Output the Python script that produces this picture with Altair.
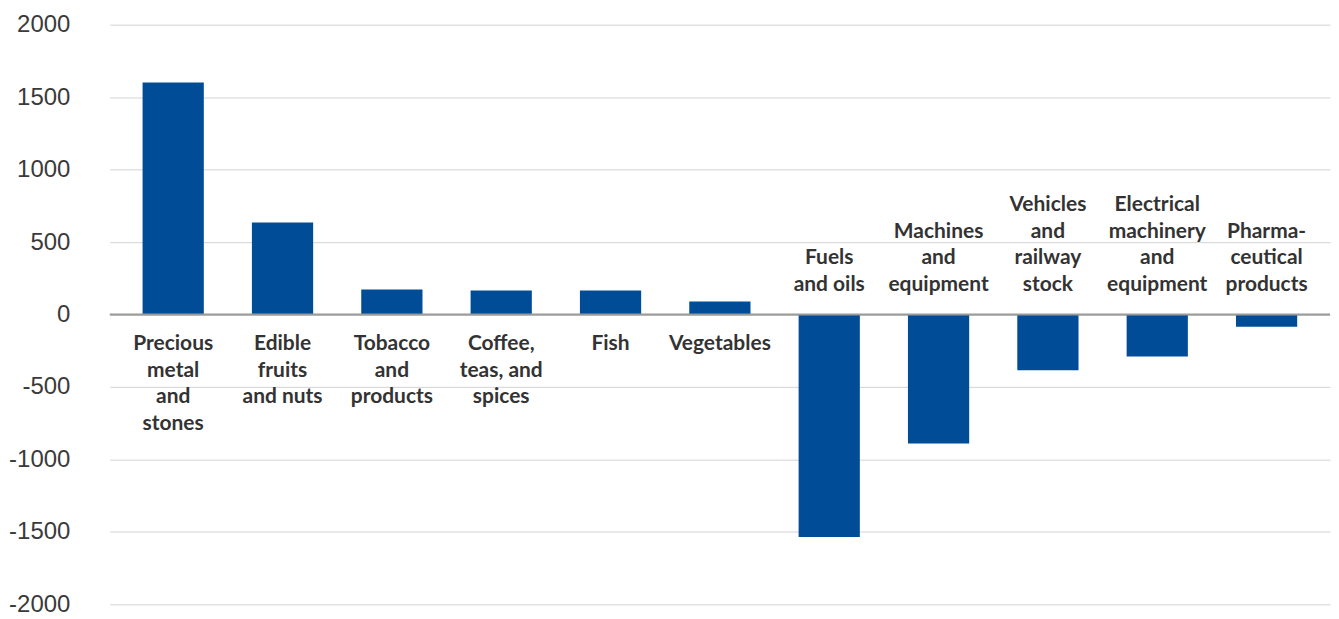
import altair as alt
import pandas as pd

categories = [
    "Precious\nmetal\nand\nstones",
    "Edible\nfruits\nand nuts",
    "Tobacco\nand\nproducts",
    "Coffee,\nteas, and\nspices",
    "Fish",
    "Vegetables",
    "Fuels\nand oils",
    "Machines\nand\nequipment",
    "Vehicles\nand\nrailway\nstock",
    "Electrical\nmachinery\nand\nequipment",
    "Pharma-\nceutical\nproducts",
]
values = [1600, 635, 172, 165, 165, 90, -1535, -890, -385, -290, -85]
y_ticks = [-2000, -1500, -1000, -500, 0, 500, 1000, 1500, 2000]

df = pd.DataFrame({"cat": categories, "value": values})
df["nlines"] = [c.count("\n") + 1 for c in categories]
df["zero"] = 0

LH = 26.5
FONT = "Lato, DejaVu Sans Condensed, sans-serif"

x = alt.X("cat:N", sort=None, axis=None,
          scale=alt.Scale(paddingInner=0.44, paddingOuter=0.3))

bars = alt.Chart(df).mark_bar(color="#014c97").encode(
    x=x,
    y=alt.Y("value:Q", scale=alt.Scale(domain=[-2000, 2000], nice=False),
            axis=alt.Axis(values=y_ticks, title=None, domain=False, ticks=False,
                          labelExpr="datum.value + ''",
                          labelFontSize=24, labelFont="Liberation Sans",
                          labelColor="#3a3a3a", labelPadding=40,
                          gridColor="#d3d3d3", gridWidth=1)),
)

zero_rule = alt.Chart(pd.DataFrame({"z": [0]})).mark_rule(
    color="#9a9a9a", strokeWidth=2).encode(y="z:Q")

text_common = dict(lineBreak="\n", fontSize=21, fontWeight="bold",
                   font=FONT, color="#333333",
                   lineHeight=LH, align="center")

layers = [bars, zero_rule]
layers.append(
    alt.Chart(df).transform_filter("datum.value >= 0").mark_text(
        baseline="top", dy=19, **text_common).encode(
        x=x, y="zero:Q", text="cat:N")
)
for n in sorted(df.loc[df["value"] < 0, "nlines"].unique()):
    layers.append(
        alt.Chart(df).transform_filter(
            f"datum.value < 0 && datum.nlines == {int(n)}").mark_text(
            baseline="bottom", dy=-20 - (int(n) - 1) * LH, **text_common).encode(
            x=x, y="zero:Q", text="cat:N")
    )

chart = alt.layer(*layers).properties(
    width=1223, height=581, padding={"left": 0, "top": 4, "right": 0, "bottom": 0}
).configure_view(stroke=None)

chart.save("out.html", embed_options={"renderer": "svg", "actions": False})
